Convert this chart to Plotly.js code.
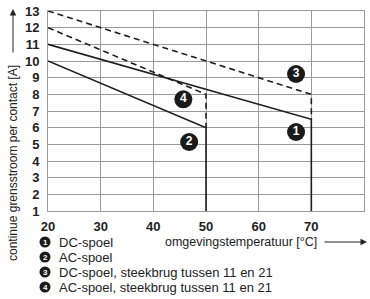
<!DOCTYPE html>
<html>
<head>
<meta charset="utf-8">
<script src="https://cdn.plot.ly/plotly-3.0.1.min.js"></script>
<style>html,body{margin:0;padding:0;background:#fff;}#chart{width:370px;height:299px;}</style>
</head>
<body>
<div id="chart"></div>
<script>
// Curve data: ambient temperature [°C] vs continuous limiting current per contact [A]
const dcX = [20, 70, 70];
const dcY = [11, 6.5, 1];
const acX = [20, 50, 50];
const acY = [10, 6, 1];
const dcBridgeX = [20, 70, 70];
const dcBridgeY = [13, 8, 6.5];
const acBridgeX = [20, 50, 50];
const acBridgeY = [12, 8, 6];

// Numbered curve labels
const labelText = ['1', '2', '3', '4'];
const labelX = [67.1, 46.8, 67.1, 45.7];
const labelY = [5.74, 5.14, 9.22, 7.7];

// Legend entries
const legendText = ['DC-spoel', 'AC-spoel', 'DC-spoel, steekbrug tussen 11 en 21', 'AC-spoel, steekbrug tussen 11 en 21'];

const xTicks = [20, 30, 40, 50, 60, 70, 80];
const yTicks = [1, 2, 3, 4, 5, 6, 7, 8, 9, 10, 11, 12, 13];

const yTitle = 'continue grensstroom per contact [A]';
const xTitle = 'omgevingstemperatuur [°C]';

const FONT = 'Liberation Sans, Arial, Helvetica, sans-serif';
const lineCol = '#1e1e1e';

const traces = [
  {x: dcX, y: dcY, mode: 'lines', line: {color: lineCol, width: 1.6}, hoverinfo: 'skip'},
  {x: acX, y: acY, mode: 'lines', line: {color: lineCol, width: 1.6}, hoverinfo: 'skip'},
  {x: dcBridgeX, y: dcBridgeY, mode: 'lines', line: {color: lineCol, width: 1.6, dash: '6px,4px'}, hoverinfo: 'skip'},
  {x: acBridgeX, y: acBridgeY, mode: 'lines', line: {color: lineCol, width: 1.6, dash: '6px,4px'}, hoverinfo: 'skip'},
  {x: labelX, y: labelY, mode: 'markers+text', text: labelText, textposition: 'middle center',
   marker: {size: 18, color: '#1a1a1a', line: {width: 0}},
   textfont: {family: FONT, size: 12, color: '#ffffff', weight: 'bold'}, hoverinfo: 'skip'}
];

// plot area in pixels: x 48..364, y 11..211
const L = 48, R = 364, T = 11, B = 211;
const px = v => (v - L) / (R - L);
const py = v => (B - v) / (B - T);

const shapes = [];
const annotations = [];
const rowsY = [242, 257, 272, 287];
legendText.forEach((t, i) => {
  shapes.push({type: 'circle', xref: 'paper', yref: 'paper', xsizemode: 'pixel', ysizemode: 'pixel',
    xanchor: px(45), yanchor: py(rowsY[i]), x0: -5.5, x1: 5.5, y0: -5.5, y1: 5.5,
    fillcolor: '#1a1a1a', line: {width: 0}});
  annotations.push({xref: 'paper', yref: 'paper', x: px(45), y: py(rowsY[i]), text: '<b>' + labelText[i] + '</b>',
    showarrow: false, xanchor: 'center', yanchor: 'middle', font: {family: FONT, size: 8, color: '#fff'}});
  annotations.push({xref: 'paper', yref: 'paper', x: px(57), y: py(rowsY[i]), text: t,
    showarrow: false, xanchor: 'left', yanchor: 'middle', font: {family: FONT, size: 13, color: '#222'}});
});

// x axis title + arrow
annotations.push({xref: 'paper', yref: 'paper', x: px(163), y: py(242), text: xTitle, showarrow: false,
  xanchor: 'left', yanchor: 'middle', font: {family: FONT, size: 12.5, color: '#222'}});
annotations.push({xref: 'paper', yref: 'paper', x: px(367), y: py(242), ax: -44, ay: 0,
  text: '', showarrow: true, arrowhead: 2, arrowsize: 1.3, arrowwidth: 1, arrowcolor: '#222', standoff: 0});
// y axis title + arrow
annotations.push({xref: 'paper', yref: 'paper', x: px(13), y: py(163), text: yTitle, showarrow: false, textangle: -90,
  xanchor: 'center', yanchor: 'middle', font: {family: FONT, size: 12, color: '#222'}});
annotations.push({xref: 'paper', yref: 'paper', x: px(13), y: py(9), ax: 0, ay: 45, text: '', showarrow: true,
  arrowhead: 2, arrowsize: 1.3, arrowwidth: 1, arrowcolor: '#222', standoff: 0});

const layout = {
  width: 370, height: 299,
  margin: {l: L, r: 370 - R, t: T, b: 299 - B},
  paper_bgcolor: '#fff', plot_bgcolor: '#fff',
  showlegend: false,
  xaxis: {range: [20, 80], tickvals: xTicks, ticks: '', showgrid: true, gridcolor: '#9a9a9a', gridwidth: 1,
    showline: true, linecolor: '#9a9a9a', linewidth: 1, mirror: true, zeroline: false, ticklabelstandoff: 3,
    tickfont: {family: FONT, size: 13, color: '#222', weight: 'bold'}, fixedrange: true},
  yaxis: {range: [1, 13], tickvals: yTicks, ticks: '', showgrid: true, gridcolor: '#9a9a9a', gridwidth: 1,
    showline: true, linecolor: '#9a9a9a', linewidth: 1, mirror: true, zeroline: false, ticklabelstandoff: 5,
    tickfont: {family: FONT, size: 13, color: '#222', weight: 'bold'}, fixedrange: true},
  shapes: shapes,
  annotations: annotations
};

Plotly.newPlot('chart', traces, layout, {displayModeBar: false, staticPlot: true});
</script>
</body>
</html>
